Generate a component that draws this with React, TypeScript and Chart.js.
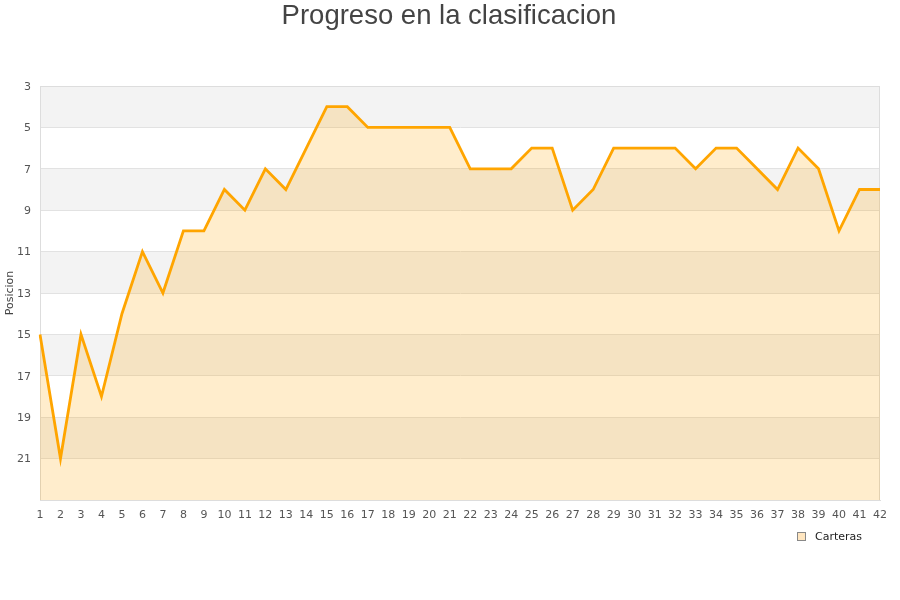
import React, { useEffect, useRef } from "react";
import { Chart, registerables } from "chart.js";

Chart.register(...registerables);

const jornadas: string[] = Array.from({ length: 42 }, (_, i) => String(i + 1));
const posiciones: number[] = [
  15, 21, 15, 18, 14, 11, 13, 10, 10, 8,
  9, 7, 8, 6, 4, 4, 5, 5, 5, 5,
  5, 7, 7, 7, 6, 6, 9, 8, 6, 6,
  6, 6, 7, 6, 6, 7, 8, 6, 7, 10,
  8, 8,
];
const seriesName = "Carteras";
const chartTitle = "Progreso en la clasificacion";
const yTitle = "Posicion";
const yMin = 3;
const yMax = 23;

const bandsPlugin = {
  id: "bands",
  beforeDraw(chart: any) {
    const { ctx, chartArea } = chart;
    const y = chart.scales.y;
    ctx.save();
    ctx.fillStyle = "#f3f3f3";
    for (let v = yMin; v < yMax; v += 4) {
      const p1 = y.getPixelForValue(v);
      const p2 = y.getPixelForValue(Math.min(v + 2, yMax));
      ctx.fillRect(chartArea.left, p1, chartArea.right - chartArea.left, p2 - p1);
    }
    ctx.restore();
  },
  beforeDatasetsDraw(chart: any) {
    const { ctx, chartArea } = chart;
    ctx.save();
    ctx.strokeStyle = "#dddddd";
    ctx.lineWidth = 1;
    ctx.strokeRect(
      Math.round(chartArea.left) + 0.5,
      Math.round(chartArea.top) + 0.5,
      Math.round(chartArea.right - chartArea.left) - 1,
      Math.round(chartArea.bottom - chartArea.top)
    );
    ctx.restore();
  },
  afterDraw(chart: any) {
    const { ctx, width } = chart;
    ctx.save();
    // title
    ctx.fillStyle = "#444444";
    ctx.font = "normal 27.5px 'Liberation Sans', Arial, sans-serif";
    ctx.textAlign = "center";
    ctx.textBaseline = "middle";
    ctx.fillText(chartTitle, 449, 16);
    // legend
    ctx.fillStyle = "rgba(255,214,150,0.6)";
    ctx.fillRect(797, 532, 8, 8);
    ctx.strokeStyle = "#888888";
    ctx.lineWidth = 1;
    ctx.strokeRect(797.5, 532.5, 8, 8);
    ctx.fillStyle = "#222222";
    ctx.font = "normal 11px 'DejaVu Sans', sans-serif";
    ctx.textAlign = "left";
    ctx.textBaseline = "middle";
    ctx.fillText(seriesName, 815, 537);
    ctx.restore();
  },
};

export default function App() {
  const ref = useRef<HTMLCanvasElement | null>(null);
  useEffect(() => {
    document.body.style.margin = "0";
    if (!ref.current) return;
    const chart = new Chart(ref.current, {
      type: "line",
      data: {
        labels: jornadas,
        datasets: [
          {
            label: seriesName,
            data: posiciones,
            borderColor: "#ffa500",
            backgroundColor: "rgba(255,165,0,0.2)",
            borderWidth: 2.8,
            pointRadius: 0,
            pointHoverRadius: 0,
            tension: 0,
            fill: { value: yMax },
          },
        ],
      },
      options: {
        animation: false,
        responsive: false,
        maintainAspectRatio: false,
        layout: { padding: { left: 0, right: 20, top: 86, bottom: 80 } },
        plugins: {
          title: { display: false },
          legend: { display: false },
          tooltip: { enabled: false },
        },
        scales: {
          x: {
            type: "category",
            offset: false,
            grid: { display: false, drawTicks: false },
            border: { display: true, color: "#dddddd" },
            ticks: {
              color: "#555555",
              font: { family: "'DejaVu Sans', sans-serif", size: 11 },
              padding: 9,
              maxRotation: 0,
              autoSkip: false,
            },
            afterFit(scale: any) {
              scale.height = 20;
            },
          },
          y: {
            type: "linear",
            reverse: true,
            min: yMin,
            max: yMax,
            grid: { color: "#e2e2e2", drawTicks: false },
            border: { display: true, color: "#dddddd" },
            title: {
              display: true,
              text: yTitle,
              color: "#444444",
              font: { family: "'DejaVu Sans', sans-serif", size: 11 },
              padding: { top: 4, bottom: 0 },
            },
            ticks: {
              stepSize: 2,
              color: "#555555",
              font: { family: "'DejaVu Sans', sans-serif", size: 11 },
              padding: 9,
              labelOffset: 1,
              callback: (v: any) => (Number(v) === yMax ? "" : String(v)),
            },
            afterFit(scale: any) {
              scale.width = 40;
            },
          },
        },
      },
      plugins: [bandsPlugin],
    });
    return () => chart.destroy();
  }, []);
  return <canvas ref={ref} width={900} height={600} style={{ display: "block" }} />;
}
